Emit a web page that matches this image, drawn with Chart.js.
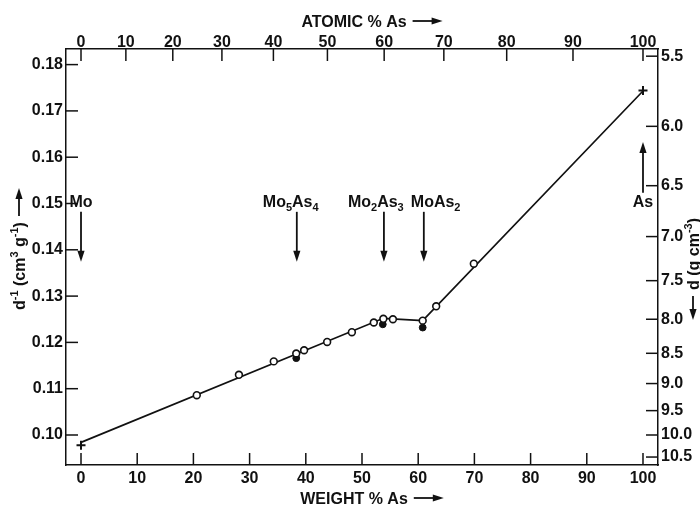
<!DOCTYPE html>
<html>
<head>
<meta charset="utf-8">
<script src="https://cdn.jsdelivr.net/npm/chart.js@4.4.1/dist/chart.umd.min.js"></script>
<style>
html, body { margin: 0; padding: 0; background: #fff; }
#wrap { position: relative; width: 700px; height: 506px; }
</style>
</head>
<body>
<div id="wrap"><canvas id="molarVolumeChart"></canvas></div>
<script>
// measured alloys (open circles): weight % As and reciprocal density d^-1 (cm3/g)
const openWt  = [20.6, 28.1, 34.3, 38.3, 39.7, 43.8, 48.2, 52.1, 53.8, 55.5, 60.8, 63.2, 69.9];
const openInv = [0.1086, 0.1130, 0.1159, 0.1176, 0.1183, 0.1201, 0.1222, 0.1243, 0.1251, 0.1250, 0.1247, 0.1278, 0.1370];

// filled circles
const filledWt  = [38.3, 53.7, 60.8];
const filledInv = [0.1166, 0.1239, 0.1232];

// pure elements (+)
const pureWt  = [0, 100];
const pureInv = [0.0978, 0.1744];

// drawn line through the points
const fitWt  = [0, 53.8, 60.8, 100];
const fitInv = [0.0984, 0.1252, 0.1247, 0.1743];

// phases marked with arrows
const phaseWt    = [0, 38.4, 53.9, 61.0, 100];
const phaseNames = ['Mo', 'Mo5As4', 'Mo2As3', 'MoAs2', 'As'];

// axis ticks
const weightTicks  = [0, 10, 20, 30, 40, 50, 60, 70, 80, 90, 100];
const atomicTicks  = [0, 10, 20, 30, 40, 50, 60, 70, 80, 90, 100];
const invTicks     = [0.10, 0.11, 0.12, 0.13, 0.14, 0.15, 0.16, 0.17, 0.18];
const densityTicks = [5.5, 6.0, 6.5, 7.0, 7.5, 8.0, 8.5, 9.0, 9.5, 10.0, 10.5];

const INK = '#111';
const FONT = '"Liberation Sans", Arial, sans-serif';
const tickFont = { family: FONT, size: 16, weight: 'bold' };

function atomicToWeight(at) {
    const As = 74.92, Mo = 95.95;
    return 100 * at * As / (at * As + (100 - at) * Mo);
}

function pts(xs, ys) {
    return xs.map((x, i) => ({ x: x, y: ys[i] }));
}

// digits become subscripts; parts are [text, -1 sub | 0 normal | 1 sup]
function richParts(name) {
    return name.split(/(\d+)/).filter(s => s).map(s => [s, /\d/.test(s) ? -1 : 0]);
}

function drawRich(ctx, parts, x, y) {
    let cx = x;
    ctx.textAlign = 'left';
    ctx.textBaseline = 'alphabetic';
    parts.forEach(([t, m]) => {
        ctx.font = m ? 'bold 11px ' + FONT : 'bold 16px ' + FONT;
        ctx.fillText(t, cx, y + (m === -1 ? 4 : m === 1 ? -7 : 0));
        cx += ctx.measureText(t).width;
    });
    return cx - x;
}

function richWidth(ctx, parts) {
    let w = 0;
    parts.forEach(([t, m]) => {
        ctx.font = m ? 'bold 11px ' + FONT : 'bold 16px ' + FONT;
        w += ctx.measureText(t).width;
    });
    return w;
}

function arrow(ctx, x1, y1, x2, y2) {
    const ang = Math.atan2(y2 - y1, x2 - x1), L = 11, W = 3.6;
    const c = Math.cos(ang), s = Math.sin(ang);
    ctx.beginPath();
    ctx.moveTo(x1, y1);
    ctx.lineTo(x2 - L * 0.7 * c, y2 - L * 0.7 * s);
    ctx.stroke();
    ctx.beginPath();
    ctx.moveTo(x2, y2);
    ctx.lineTo(x2 - L * c + W * s, y2 - L * s - W * c);
    ctx.lineTo(x2 - L * c - W * s, y2 - L * s + W * c);
    ctx.closePath();
    ctx.fill();
}

// tick marks pointing into the plot box
const inwardTicks = {
    id: 'inwardTicks',
    afterDraw(chart) {
        const ctx = chart.ctx, a = chart.chartArea, len = 12;
        ctx.save();
        ctx.strokeStyle = INK;
        ctx.lineWidth = 1.5;
        Object.values(chart.scales).forEach(s => {
            s.ticks.forEach(t => {
                const p = s.getPixelForValue(t.value);
                ctx.beginPath();
                if (s.position === 'bottom') { ctx.moveTo(p, a.bottom); ctx.lineTo(p, a.bottom - len); }
                if (s.position === 'top')    { ctx.moveTo(p, a.top);    ctx.lineTo(p, a.top + len); }
                if (s.position === 'left')   { ctx.moveTo(a.left, p);   ctx.lineTo(a.left + len, p); }
                if (s.position === 'right')  { ctx.moveTo(a.right, p);  ctx.lineTo(a.right - len, p); }
                ctx.stroke();
            });
        });
        ctx.restore();
    }
};

// phase labels, arrows and axis titles
const annotations = {
    id: 'annotations',
    afterDraw(chart) {
        const ctx = chart.ctx, a = chart.chartArea;
        const xs = chart.scales.x, ys = chart.scales.y;
        ctx.save();
        ctx.fillStyle = INK;
        ctx.strokeStyle = INK;
        ctx.lineWidth = 1.8;

        const labelDx = [null, -34, -36, -13, null];
        const labelY = ys.getPixelForValue(0.1492);
        phaseWt.forEach((w, i) => {
            const px = xs.getPixelForValue(w);
            const parts = richParts(phaseNames[i]);
            const lx = labelDx[i] === null ? px - richWidth(ctx, parts) / 2 : px + labelDx[i];
            drawRich(ctx, parts, lx, labelY);
            if (phaseNames[i] === 'As') {
                arrow(ctx, px, ys.getPixelForValue(0.1523), px, ys.getPixelForValue(0.1633));
            } else {
                arrow(ctx, px, ys.getPixelForValue(0.1482), px, ys.getPixelForValue(0.1374));
            }
        });

        // top title
        const cx = (a.left + a.right) / 2 + 10;
        let w = richWidth(ctx, [['ATOMIC % As', 0]]);
        let x0 = cx - (w + 36) / 2;
        drawRich(ctx, [['ATOMIC % As', 0]], x0, 27);
        arrow(ctx, x0 + w + 6, 21, x0 + w + 36, 21);

        // bottom title
        w = richWidth(ctx, [['WEIGHT % As', 0]]);
        x0 = cx - (w + 36) / 2;
        drawRich(ctx, [['WEIGHT % As', 0]], x0, 504);
        arrow(ctx, x0 + w + 6, 498, x0 + w + 36, 498);

        // left title, reading upwards
        ctx.save();
        ctx.translate(25, 310);
        ctx.rotate(-Math.PI / 2);
        const lp = [['d', 0], ['-1', 1], [' (cm', 0], ['3', 1], [' g', 0], ['-1', 1], [')', 0]];
        w = drawRich(ctx, lp, 0, 0);
        arrow(ctx, w + 6, -6, w + 34, -6);
        ctx.restore();

        // right title, reading upwards with arrow pointing down
        ctx.save();
        ctx.translate(699, 320);
        ctx.rotate(-Math.PI / 2);
        arrow(ctx, 24, -6, 0, -6);
        const rp = [['d (g cm', 0], ['-3', 1], [')', 0]];
        drawRich(ctx, rp, 30, 0);
        ctx.restore();

        ctx.restore();
    }
};

const xMin = -2.67, xMax = 102.67;
const yMin = 0.09352, yMax = 0.18337;
const noGrid = { display: false, drawTicks: false };
const frame = { display: true, color: INK, width: 1.5 };

new Chart(document.getElementById('molarVolumeChart'), {
    type: 'scatter',
    data: {
        datasets: [{
            label: 'open',
            data: pts(openWt, openInv),
            pointStyle: 'circle',
            pointRadius: 3.4,
            backgroundColor: '#fff',
            borderColor: INK,
            borderWidth: 1.6,
            order: 0
        }, {
            label: 'filled',
            data: pts(filledWt, filledInv),
            pointStyle: 'circle',
            pointRadius: 3.4,
            backgroundColor: INK,
            borderColor: INK,
            borderWidth: 1,
            order: 1
        }, {
            label: 'elements',
            data: pts(pureWt, pureInv),
            pointStyle: 'cross',
            pointRadius: 4.5,
            borderColor: INK,
            borderWidth: 2,
            order: 2
        }, {
            type: 'line',
            label: 'fit',
            data: pts(fitWt, fitInv),
            borderColor: INK,
            borderWidth: 1.7,
            pointRadius: 0,
            fill: false,
            tension: 0,
            order: 10
        }]
    },
    options: {
        responsive: true,
        maintainAspectRatio: false,
        animation: false,
        layout: { padding: 0 },
        plugins: { legend: { display: false }, tooltip: { enabled: false } },
        scales: {
            x: {
                type: 'linear', position: 'bottom', min: xMin, max: xMax,
                afterBuildTicks: s => { s.ticks = weightTicks.map(v => ({ value: v })); },
                afterFit: s => { s.height = 41; },
                ticks: { font: tickFont, color: INK, padding: 4, autoSkip: false, maxRotation: 0,
                         callback: (v, i) => String(weightTicks[i]) },
                grid: noGrid,
                border: frame
            },
            x2: {
                type: 'linear', position: 'top', display: true, min: xMin, max: xMax,
                afterBuildTicks: s => { s.ticks = atomicTicks.map(v => ({ value: atomicToWeight(v) })); },
                afterFit: s => { s.height = 49; },
                ticks: { font: tickFont, color: INK, padding: -3, autoSkip: false, maxRotation: 0,
                         callback: (v, i) => String(atomicTicks[i]) },
                grid: noGrid,
                border: frame
            },
            y: {
                type: 'linear', position: 'left', min: yMin, max: yMax,
                afterBuildTicks: s => { s.ticks = invTicks.map(v => ({ value: v })); },
                afterFit: s => { s.width = 66; },
                ticks: { font: tickFont, color: INK, padding: 3, autoSkip: false,
                         callback: (v, i) => invTicks[i].toFixed(2) },
                grid: noGrid,
                border: frame
            },
            y2: {
                type: 'linear', position: 'right', display: true, min: yMin, max: yMax,
                afterBuildTicks: s => { s.ticks = densityTicks.map(v => ({ value: 1 / v })); },
                afterFit: s => { s.width = 42; },
                ticks: { font: tickFont, color: INK, padding: 3, autoSkip: false,
                         callback: (v, i) => densityTicks[i].toFixed(1) },
                grid: noGrid,
                border: frame
            }
        }
    },
    plugins: [inwardTicks, annotations]
});
</script>
</body>
</html>
